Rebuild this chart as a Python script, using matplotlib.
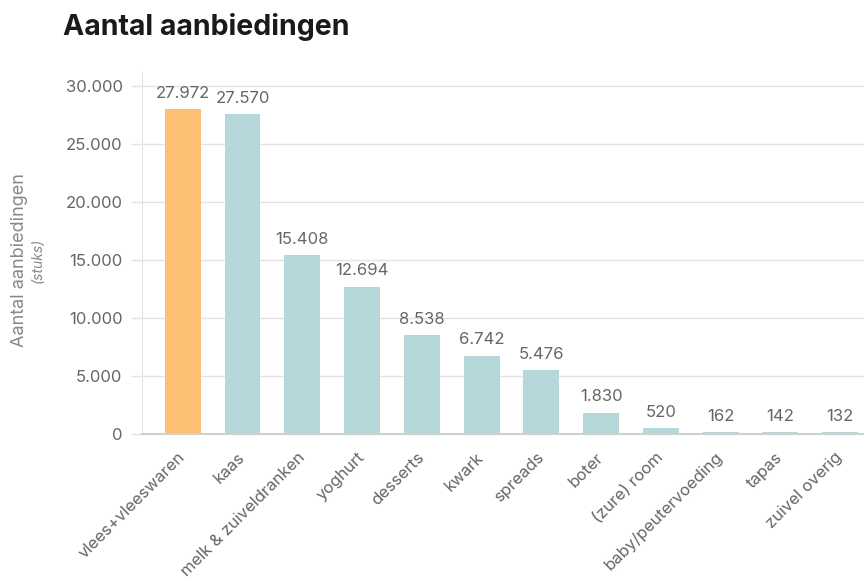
import matplotlib.pyplot as plt
import numpy as np

categories = ["vlees+vleeswaren", "kaas", "melk & zuiveldranken", "yoghurt", "desserts",
              "kwark", "spreads", "boter", "(zure) room", "baby/peutervoeding",
              "tapas", "zuivel overig"]
values = [27972, 27570, 15408, 12694, 8538, 6742, 5476, 1830, 520, 162, 142, 132]
highlight = "vlees+vleeswaren"
yticks = [0, 5000, 10000, 15000, 20000, 25000, 30000]

plt.rcParams["font.family"] = ["Inter", "DejaVu Sans"]

fig = plt.figure(figsize=(8.64, 5.83), dpi=100)
ax = fig.add_axes([142 / 864, 1 - 434 / 583, 1 - 142 / 864, (434 - 72) / 583])

x = np.arange(len(categories))
colors = ["#FBC072" if c == highlight else "#B5D8DA" for c in categories]
ax.bar(x, values, width=0.6, color=colors, zorder=2)

fmt = lambda v: f"{v:,}".replace(",", ".")
for xi, v in zip(x, values):
    ax.annotate(fmt(v), (xi, v), xytext=(0, 6), textcoords="offset points",
                ha="center", va="bottom", fontsize=12, color="#666666")

ax.set_xlim(-0.683, 11.4)
ax.set_ylim(0, 31200)
ax.set_yticks(yticks)
ax.set_yticklabels([fmt(t) for t in yticks], fontsize=12, color="#666666")
ax.set_xticks(x)
ax.set_xticklabels(categories, rotation=45, ha="right", va="center",
                   rotation_mode="anchor", fontsize=12, color="#666666")
ax.tick_params(axis="x", length=0, pad=15)
ax.tick_params(axis="y", length=8, color="#e3e3e3", width=1, pad=6)
ax.grid(axis="y", color="#e3e3e3", linewidth=1, zorder=0)

for s in ["top", "right"]:
    ax.spines[s].set_visible(False)
ax.spines["left"].set_color("#e3e3e3")
ax.spines["bottom"].set_color("#d0d0d0")
ax.spines["bottom"].set_linewidth(1.5)

fig.text(63 / 864, 1 - 27 / 583, "Aantal aanbiedingen", fontsize=20.5, fontweight="bold",
         color="#1a1a1a", va="center", ha="left")
fig.text(20 / 864, 1 - 260 / 583, "Aantal aanbiedingen", rotation=90, fontsize=13,
         color="#888888", va="center", ha="center")
fig.text(38 / 864, 1 - 260 / 583, "(stuks)", rotation=90, fontsize=10, style="italic",
         color="#888888", va="center", ha="center")

fig.savefig("out.png", dpi=100)
